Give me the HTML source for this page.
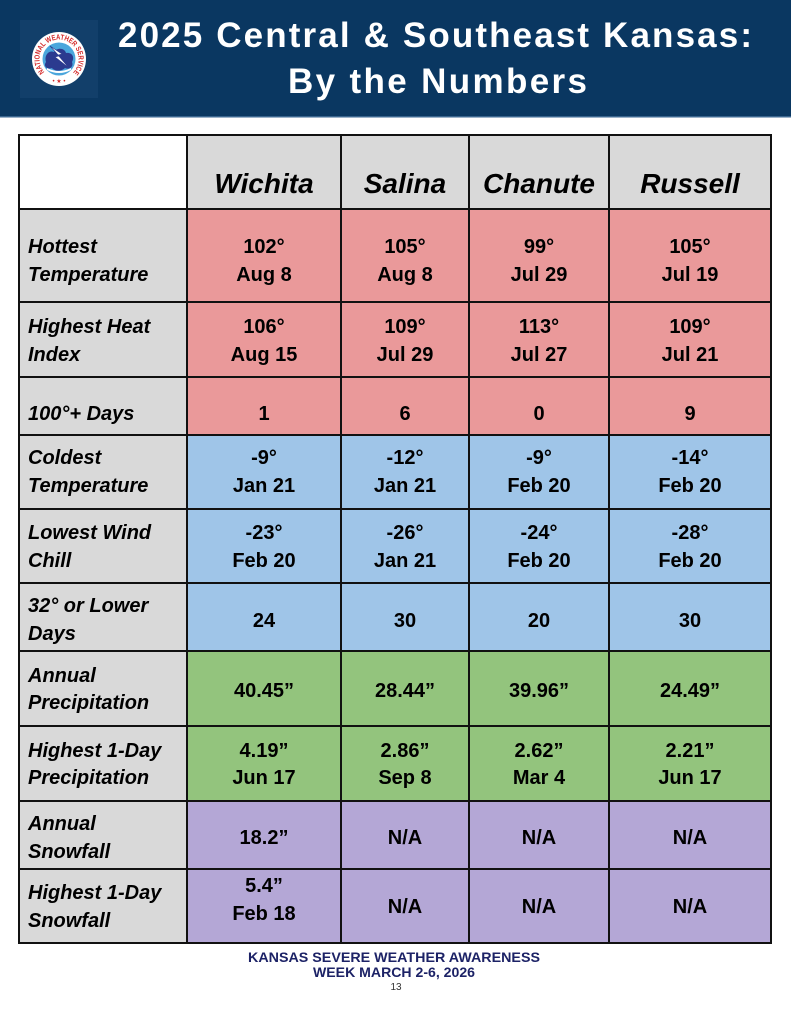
<!DOCTYPE html>
<html><head><meta charset="utf-8"><style>
html,body{margin:0;padding:0;background:#fff;}
svg{display:block;}
.h{font-family:"Liberation Sans",sans-serif;font-weight:bold;fill:#fff;font-size:35px;}
.c{font-family:"Liberation Sans",sans-serif;font-weight:bold;font-style:italic;font-size:28px;fill:#000;text-anchor:middle;}
.l{font-family:"Liberation Sans",sans-serif;font-weight:bold;font-style:italic;font-size:20px;fill:#000;}
.v{font-family:"Liberation Sans",sans-serif;font-weight:bold;font-size:20px;fill:#000;text-anchor:middle;}
.f{font-family:"Liberation Sans",sans-serif;font-weight:bold;font-size:14px;fill:#1c2266;}
</style></head><body>
<svg width="791" height="1024" viewBox="0 0 791 1024" xmlns="http://www.w3.org/2000/svg">
<!-- header band -->
<rect x="0" y="0" width="791" height="117" fill="#0a3761"/>
<rect x="0" y="116" width="791" height="1.5" fill="#3a6690"/>
<!-- logo -->
<rect x="20" y="20" width="78" height="78" fill="#123f6a"/>
<circle cx="59" cy="59" r="27" fill="#fff"/>
<circle cx="59" cy="59" r="16.5" fill="#4aa6dc"/>
<path d="M46 62 C44 55 49 50 54 52 C57 47 65 48 66 53 C72 52 75 57 72 62 C74 67 69 70 65 68 C61 72 54 71 52 68 C47 70 43 66 46 62 Z" fill="#2b3a8f"/>
<path d="M47 68 Q59 74 71 68 L71 70 Q59 76 47 70 Z" fill="#fff"/>
<path d="M50 46 L62 54 L58 55 L69 68 L55 57 L59 56 Z" fill="#fff" stroke="#2b3a8f" stroke-width="0.6"/>
<defs><path id="arc" d="M45.2 72.8 A19.5 19.5 0 1 1 72.8 72.8"/></defs>
<text font-family="Liberation Sans,sans-serif" font-weight="bold" font-size="7.5" fill="#d42a2a"><textPath href="#arc" startOffset="1" textLength="90" lengthAdjust="spacingAndGlyphs">NATIONAL WEATHER SERVICE</textPath></text>
<text x="59" y="83" font-family="Liberation Sans,sans-serif" font-size="6" fill="#d42a2a" text-anchor="middle">• ★ •</text>
<!-- title -->
<text class="h" x="118" y="47" textLength="634" lengthAdjust="spacing">2025 Central &amp; Southeast Kansas:</text>
<text class="h" x="288" y="93" textLength="299" lengthAdjust="spacing">By the Numbers</text>

<!-- cell backgrounds -->
<rect x="19" y="135" width="168" height="74" fill="#fff"/>
<rect x="187" y="135" width="584" height="74" fill="#d9d9d9"/>
<rect x="19" y="209" width="168" height="734" fill="#d9d9d9"/>
<rect x="187" y="209" width="584" height="226" fill="#ea999a"/>
<rect x="187" y="435" width="584" height="216" fill="#9fc5e8"/>
<rect x="187" y="651" width="584" height="150" fill="#93c47d"/>
<rect x="187" y="801" width="584" height="142" fill="#b4a7d6"/>

<!-- grid -->
<g stroke="#111" stroke-width="2">
<line x1="18" y1="135" x2="772" y2="135"/>
<line x1="18" y1="209" x2="772" y2="209"/>
<line x1="18" y1="302" x2="772" y2="302"/>
<line x1="18" y1="377" x2="772" y2="377"/>
<line x1="18" y1="435" x2="772" y2="435"/>
<line x1="18" y1="509" x2="772" y2="509"/>
<line x1="18" y1="583" x2="772" y2="583"/>
<line x1="18" y1="651" x2="772" y2="651"/>
<line x1="18" y1="726" x2="772" y2="726"/>
<line x1="18" y1="801" x2="772" y2="801"/>
<line x1="18" y1="869" x2="772" y2="869"/>
<line x1="18" y1="943" x2="772" y2="943"/>
<line x1="19" y1="134" x2="19" y2="944"/>
<line x1="187" y1="134" x2="187" y2="944"/>
<line x1="341" y1="134" x2="341" y2="944"/>
<line x1="469" y1="134" x2="469" y2="944"/>
<line x1="609" y1="134" x2="609" y2="944"/>
<line x1="771" y1="134" x2="771" y2="944"/>
</g>

<!-- column headers -->
<text class="c" x="264" y="193">Wichita</text>
<text class="c" x="405" y="193">Salina</text>
<text class="c" x="539" y="193">Chanute</text>
<text class="c" x="690" y="193">Russell</text>

<!-- row labels -->
<text class="l" x="28" y="253">Hottest</text>
<text class="l" x="28" y="281">Temperature</text>
<text class="l" x="28" y="333">Highest Heat</text>
<text class="l" x="28" y="361">Index</text>
<text class="l" x="28" y="420">100°+ Days</text>
<text class="l" x="28" y="464">Coldest</text>
<text class="l" x="28" y="492">Temperature</text>
<text class="l" x="28" y="539">Lowest Wind</text>
<text class="l" x="28" y="567">Chill</text>
<text class="l" x="28" y="612">32° or Lower</text>
<text class="l" x="28" y="640">Days</text>
<text class="l" x="28" y="682">Annual</text>
<text class="l" x="28" y="709">Precipitation</text>
<text class="l" x="28" y="757">Highest 1-Day</text>
<text class="l" x="28" y="784">Precipitation</text>
<text class="l" x="28" y="830">Annual</text>
<text class="l" x="28" y="858">Snowfall</text>
<text class="l" x="28" y="899">Highest 1-Day</text>
<text class="l" x="28" y="927">Snowfall</text>

<!-- values -->
<g>
<text class="v" x="264" y="253">102°</text><text class="v" x="264" y="281">Aug 8</text>
<text class="v" x="405" y="253">105°</text><text class="v" x="405" y="281">Aug 8</text>
<text class="v" x="539" y="253">99°</text><text class="v" x="539" y="281">Jul 29</text>
<text class="v" x="690" y="253">105°</text><text class="v" x="690" y="281">Jul 19</text>

<text class="v" x="264" y="333">106°</text><text class="v" x="264" y="361">Aug 15</text>
<text class="v" x="405" y="333">109°</text><text class="v" x="405" y="361">Jul 29</text>
<text class="v" x="539" y="333">113°</text><text class="v" x="539" y="361">Jul 27</text>
<text class="v" x="690" y="333">109°</text><text class="v" x="690" y="361">Jul 21</text>

<text class="v" x="264" y="420">1</text>
<text class="v" x="405" y="420">6</text>
<text class="v" x="539" y="420">0</text>
<text class="v" x="690" y="420">9</text>

<text class="v" x="264" y="464">-9°</text><text class="v" x="264" y="492">Jan 21</text>
<text class="v" x="405" y="464">-12°</text><text class="v" x="405" y="492">Jan 21</text>
<text class="v" x="539" y="464">-9°</text><text class="v" x="539" y="492">Feb 20</text>
<text class="v" x="690" y="464">-14°</text><text class="v" x="690" y="492">Feb 20</text>

<text class="v" x="264" y="539">-23°</text><text class="v" x="264" y="567">Feb 20</text>
<text class="v" x="405" y="539">-26°</text><text class="v" x="405" y="567">Jan 21</text>
<text class="v" x="539" y="539">-24°</text><text class="v" x="539" y="567">Feb 20</text>
<text class="v" x="690" y="539">-28°</text><text class="v" x="690" y="567">Feb 20</text>

<text class="v" x="264" y="627">24</text>
<text class="v" x="405" y="627">30</text>
<text class="v" x="539" y="627">20</text>
<text class="v" x="690" y="627">30</text>

<text class="v" x="264" y="697">40.45”</text>
<text class="v" x="405" y="697">28.44”</text>
<text class="v" x="539" y="697">39.96”</text>
<text class="v" x="690" y="697">24.49”</text>

<text class="v" x="264" y="757">4.19”</text><text class="v" x="264" y="784">Jun 17</text>
<text class="v" x="405" y="757">2.86”</text><text class="v" x="405" y="784">Sep 8</text>
<text class="v" x="539" y="757">2.62”</text><text class="v" x="539" y="784">Mar 4</text>
<text class="v" x="690" y="757">2.21”</text><text class="v" x="690" y="784">Jun 17</text>

<text class="v" x="264" y="844">18.2”</text>
<text class="v" x="405" y="844">N/A</text>
<text class="v" x="539" y="844">N/A</text>
<text class="v" x="690" y="844">N/A</text>

<text class="v" x="264" y="892">5.4”</text><text class="v" x="264" y="920">Feb 18</text>
<text class="v" x="405" y="913">N/A</text>
<text class="v" x="539" y="913">N/A</text>
<text class="v" x="690" y="913">N/A</text>
</g>

<!-- footer -->
<text class="f" x="248" y="962" textLength="292" lengthAdjust="spacingAndGlyphs">KANSAS SEVERE WEATHER AWARENESS</text>
<text class="f" x="313" y="977" textLength="162" lengthAdjust="spacingAndGlyphs">WEEK MARCH 2-6, 2026</text>
<text x="396" y="990" font-family="Liberation Sans,sans-serif" font-size="10" fill="#333" text-anchor="middle">13</text>
</svg>
</body></html>
